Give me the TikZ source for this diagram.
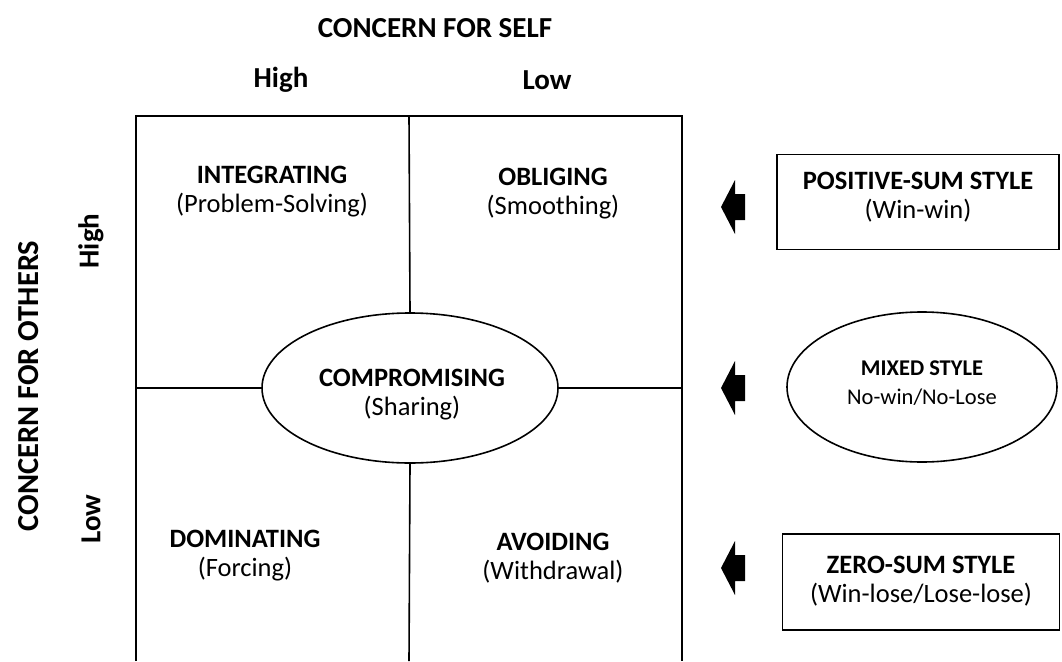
\documentclass[tikz,border=0pt]{standalone}
\usepackage{fontspec}
\setmainfont{Carlito}
\usetikzlibrary{shapes.geometric}
\begin{document}
\begin{tikzpicture}[x=1pt,y=-1pt,
  every node/.style={font=\fontsize{26.5}{29}\selectfont, align=center, inner sep=0pt},
  heading/.style={font=\fontsize{29}{32}\selectfont\bfseries},
  gridline/.style={line width=1.6pt, black},
  shapeline/.style={draw, line width=1.6pt},
  blackarrow/.style={fill=black}]
\useasboundingbox (0,0) rectangle (1062,661);

% headings
\node[heading] (self) at (435,28) {CONCERN FOR SELF};
\node[heading] (shigh) at (281,80) {High};
\node[heading] (slow) at (547,80) {Low};
\node[heading, font=\fontsize{30.5}{32}\selectfont\bfseries, rotate=90] (others) at (29,386) {CONCERN FOR OTHERS};
\node[heading, rotate=90] (ohigh) at (91,241) {High};
\node[heading, rotate=90] (olow) at (91,519) {Low};

% central ellipse
\node[ellipse, shapeline, minimum width=296pt, minimum height=150pt] (comp) at (410,388) {};
\node (comptext) at (412,395) {\textbf{COMPROMISING}\\(Sharing)};

% grid
\coordinate (bl) at (136,661);
\coordinate (tl) at (136,116);
\coordinate (tm) at (409,116);
\coordinate (tr) at (682,116);
\coordinate (br) at (682,661);
\coordinate (bm) at (409,661);
\coordinate (ml) at (136,388);
\coordinate (mr) at (682,388);
\draw[gridline] (bl) -- (tl) -- (tr) -- (br);
\draw[gridline] (tm) -- (comp.north);
\draw[gridline] (comp.south) -- (bm);
\draw[gridline] (ml) -- (comp.west);
\draw[gridline] (comp.east) -- (mr);

% cell labels
\node (integ) at (272,192) {\textbf{INTEGRATING}\\(Problem-Solving)};
\node (oblig) at (553,194) {\textbf{OBLIGING}\\(Smoothing)};
\node (domin) at (245,556) {\textbf{DOMINATING}\\(Forcing)};
\node (avoid) at (553,558) {\textbf{AVOIDING}\\(Withdrawal)};

% right side
\node[shapeline, minimum width=282pt, minimum height=95pt] (pos) at (918,202) {};
\node (postext) at (918,197) {\textbf{POSITIVE-SUM STYLE}\\(Win-win)};
\node[ellipse, shapeline, minimum width=270pt, minimum height=150pt] (mixed) at (922,387) {};
\node[font=\fontsize{22.5}{29}\selectfont] (mixedtext) at (922,383) {\textbf{MIXED STYLE}\\No-win/No-Lose};
\node[shapeline, minimum width=277pt, minimum height=96pt] (zero) at (921,582) {};
\node (zerotext) at (921,581) {\textbf{ZERO-SUM STYLE}\\(Win-lose/Lose-lose)};

% arrows
\foreach \n/\yy in {a1/207, a2/388, a3/568}{
  \coordinate (\n) at (721,\yy);
  \fill[blackarrow] (\n) -- ++(14,-27) -- ++(0,14) -- ++(10,0) -- ++(0,26) -- ++(-10,0) -- ++(0,14) -- cycle;
}
\end{tikzpicture}
\end{document}
